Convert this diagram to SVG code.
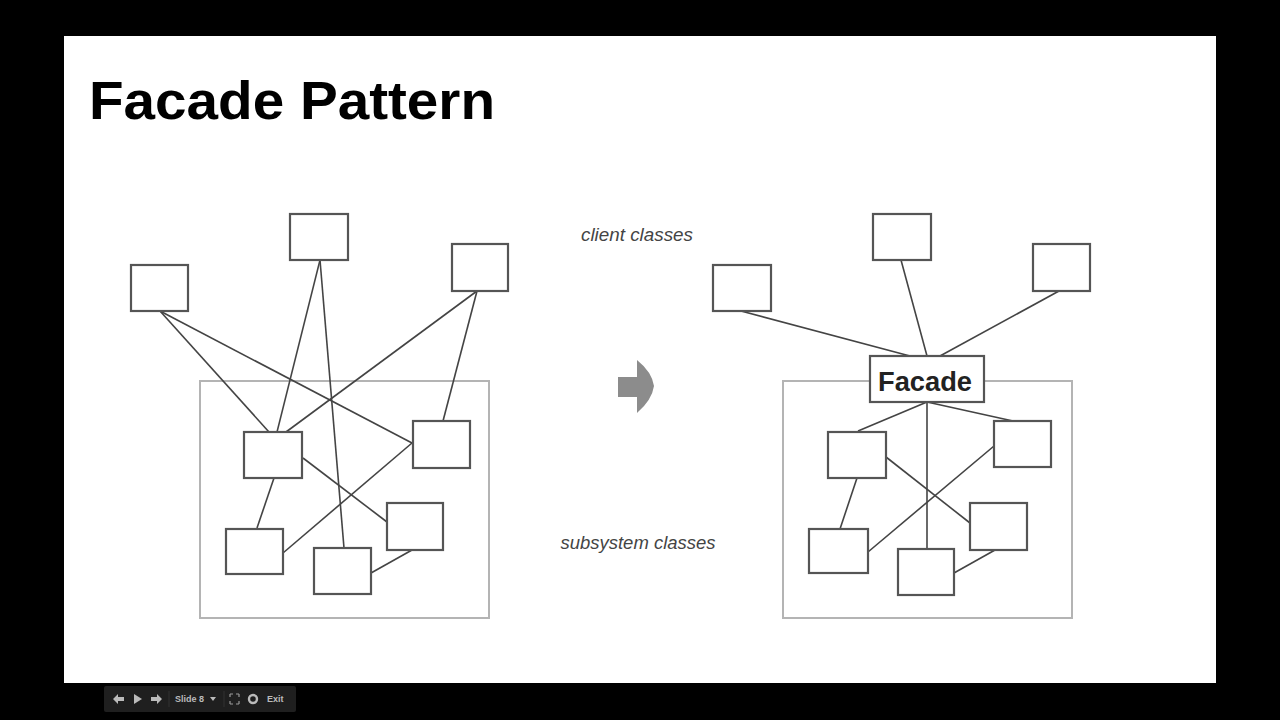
<svg xmlns="http://www.w3.org/2000/svg" width="1280" height="720" viewBox="0 0 1280 720">
<style>
.box{fill:#fff;stroke:#555;stroke-width:2.2}
.frame{fill:none;stroke:#b4b4b4;stroke-width:2}
.ln{stroke:#444;stroke-width:1.6;fill:none}
.lbl{font-family:"Liberation Sans",Arial,sans-serif;font-style:italic;font-size:18px;fill:#444}
.tb{font-family:"Liberation Sans",Arial,sans-serif;font-size:9px;font-weight:bold;fill:#bbb}
</style>
<rect x="0" y="0" width="1280" height="720" fill="#000"/>
<rect x="64" y="36" width="1152" height="647" fill="#fff"/>
<text x="89" y="119" font-family="Liberation Sans,Arial,sans-serif" font-weight="bold" font-size="54" textLength="406" lengthAdjust="spacingAndGlyphs" fill="#000">Facade Pattern</text>

<g id="labels">
<text class="lbl" x="637" y="241" text-anchor="middle" textLength="112" lengthAdjust="spacingAndGlyphs">client classes</text>
<text class="lbl" x="638" y="549" text-anchor="middle" textLength="155" lengthAdjust="spacingAndGlyphs">subsystem classes</text>
</g>

<g id="arrow">
<path d="M618,377 H637 V360 Q652,372 654,386 Q652,400 637,413 V397 H618 Z" fill="#8c8c8c"/>
</g>

<g id="left-frame"><rect class="frame" x="200" y="381" width="289" height="237"/></g>
<g id="right-frame"><rect class="frame" x="783" y="381" width="289" height="237"/></g>

<g id="connectors">
<!-- left -->
<line class="ln" x1="160" y1="311" x2="269" y2="432"/>
<line class="ln" x1="160" y1="311" x2="412" y2="443"/>
<line class="ln" x1="320" y1="260" x2="277" y2="432"/>
<line class="ln" x1="320" y1="260" x2="344" y2="548"/>
<line class="ln" x1="477" y1="291" x2="286" y2="432"/>
<line class="ln" x1="477" y1="291" x2="443" y2="421"/>
<line class="ln" x1="274" y1="478" x2="257" y2="528"/>
<line class="ln" x1="303" y1="458" x2="387" y2="522"/>
<line class="ln" x1="412" y1="443" x2="283" y2="553"/>
<line class="ln" x1="412" y1="550" x2="371" y2="573"/>
<!-- right -->
<line class="ln" x1="741" y1="311" x2="910" y2="356"/>
<line class="ln" x1="901" y1="260" x2="927" y2="356"/>
<line class="ln" x1="1059" y1="291" x2="940" y2="356"/>
<line class="ln" x1="927" y1="402" x2="858" y2="431"/>
<line class="ln" x1="927" y1="402" x2="927" y2="549"/>
<line class="ln" x1="927" y1="402" x2="1013" y2="421"/>
<line class="ln" x1="886" y1="457" x2="970" y2="523"/>
<line class="ln" x1="994" y1="446" x2="868" y2="552"/>
<line class="ln" x1="857" y1="478" x2="840" y2="529"/>
<line class="ln" x1="995" y1="550" x2="954" y2="573"/>
</g>

<g id="left-client-1"><rect class="box" x="131" y="265" width="57" height="46"/></g>
<g id="left-client-2"><rect class="box" x="290" y="214" width="58" height="46"/></g>
<g id="left-client-3"><rect class="box" x="452" y="244" width="56" height="47"/></g>
<g id="left-sub-1"><rect class="box" x="244" y="432" width="58" height="46"/></g>
<g id="left-sub-2"><rect class="box" x="413" y="421" width="57" height="47"/></g>
<g id="left-sub-3"><rect class="box" x="387" y="503" width="56" height="47"/></g>
<g id="left-sub-4"><rect class="box" x="226" y="529" width="57" height="45"/></g>
<g id="left-sub-5"><rect class="box" x="314" y="548" width="57" height="46"/></g>

<g id="right-client-1"><rect class="box" x="713" y="265" width="58" height="46"/></g>
<g id="right-client-2"><rect class="box" x="873" y="214" width="58" height="46"/></g>
<g id="right-client-3"><rect class="box" x="1033" y="244" width="57" height="47"/></g>
<g id="facade">
<rect class="box" x="870" y="356" width="114" height="46"/>
<text x="925" y="391" text-anchor="middle" font-family="Liberation Sans,Arial,sans-serif" font-weight="bold" font-size="27" textLength="94" lengthAdjust="spacingAndGlyphs" fill="#222">Facade</text>
</g>
<g id="right-sub-1"><rect class="box" x="828" y="432" width="58" height="46"/></g>
<g id="right-sub-2"><rect class="box" x="994" y="421" width="57" height="46"/></g>
<g id="right-sub-3"><rect class="box" x="970" y="503" width="57" height="47"/></g>
<g id="right-sub-4"><rect class="box" x="809" y="529" width="59" height="44"/></g>
<g id="right-sub-5"><rect class="box" x="898" y="549" width="56" height="46"/></g>

<g id="toolbar">
<rect x="104" y="686" width="192" height="26" rx="2" fill="#1f1f1f"/>
<path d="M113,699 L118,694 V697 H124 V701 H118 V704 Z" fill="#bbb"/>
<path d="M134,694 L142,699 L134,704 Z" fill="#bbb"/>
<path d="M162,699 L157,694 V697 H151 V701 H157 V704 Z" fill="#bbb"/>
<line x1="169" y1="691" x2="169" y2="707" stroke="#333" stroke-width="1"/>
<text class="tb" x="175" y="702">Slide 8</text>
<path d="M210,697 L216,697 L213,701 Z" fill="#bbb"/>
<line x1="224" y1="691" x2="224" y2="707" stroke="#333" stroke-width="1"/>
<path d="M230,694 h3 M230,694 v3 M239,694 h-3 M239,694 v3 M230,704 h3 M230,704 v-3 M239,704 h-3 M239,704 v-3" stroke="#999" stroke-width="1.2" fill="none"/>
<circle cx="253" cy="699" r="4" fill="none" stroke="#bbb" stroke-width="2.4"/>
<text class="tb" x="267" y="702">Exit</text>
</g>
</svg>
